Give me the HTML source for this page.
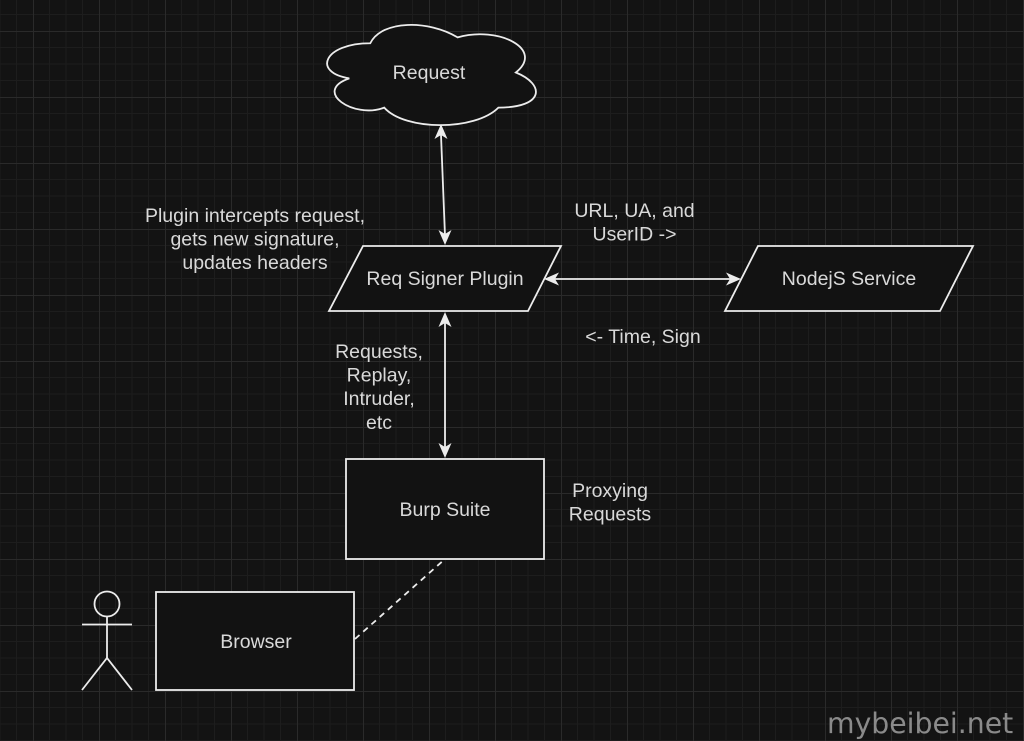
<!DOCTYPE html>
<html><head><meta charset="utf-8">
<style>
html,body{margin:0;padding:0;background:#131313;}
body{width:1024px;height:741px;overflow:hidden;}
svg{display:block;}
text{font-family:"Liberation Sans",Arial,sans-serif;font-size:19.5px;fill:#d9d9d9;}
</style></head>
<body>
<svg width="1024" height="741" viewBox="0 0 1024 741" xmlns="http://www.w3.org/2000/svg">
<defs>
<pattern id="g" patternUnits="userSpaceOnUse" x="33" y="31" width="66" height="66">
<rect width="66" height="66" fill="#131313"/>
<path d="M16.5 0V66M33 0V66M49.5 0V66M0 16.5H66M0 33H66M0 49.5H66" stroke="#1d1d1d" stroke-width="1"/>
<path d="M0.5 0V66M0 0.5H66" stroke="#2a2a2a" stroke-width="1"/>
</pattern>
</defs>
<rect width="1024" height="741" fill="url(#g)"/>

<g stroke="#ececec" stroke-width="1.8" fill="#121212">
<!-- cloud -->
<path d="M370.25 43.25 C323.65 43.25 312 72.5 349.28 78.35 C312 91.22 353.94 119.3 384.23 107.6 C405.2 131 475.1 131 498.4 107.6 C545 107.6 545 84.2 515.88 72.5 C545 49.1 498.4 25.7 457.63 37.4 C428.5 19.85 381.9 19.85 370.25 43.25 Z"/>
<!-- parallelograms -->
<polygon points="363,246 561,246 528,311 329,311"/>
<polygon points="758,246 973,246 940,311 725,311"/>
<!-- rects -->
<rect x="346" y="459" width="198" height="100"/>
<rect x="156" y="592" width="198" height="98"/>
</g>

<!-- connectors -->
<g stroke="#ececec" stroke-width="1.8" fill="none">
<line x1="441" y1="135" x2="445" y2="236"/>
<line x1="445" y1="322" x2="445" y2="449"/>
<line x1="555" y1="279" x2="731" y2="279"/>
<line x1="355" y1="639" x2="445" y2="559" stroke-dasharray="6 5"/>
<!-- person -->
<circle cx="107" cy="604" r="12.5"/>
<line x1="107" y1="616.5" x2="107" y2="658"/>
<line x1="82" y1="624.5" x2="132" y2="624.5"/>
<polyline points="82,690 107,658 132,690"/>
</g>
<g fill="#ececec">
<path d="M0 0 L-15 -6.5 L-11 0 L-15 6.5 Z" transform="translate(441,124) rotate(-90)"/>
<path d="M0 0 L-15 -6.5 L-11 0 L-15 6.5 Z" transform="translate(445,245) rotate(90)"/>
<path d="M0 0 L-15 -6.5 L-11 0 L-15 6.5 Z" transform="translate(445,312) rotate(-90)"/>
<path d="M0 0 L-15 -6.5 L-11 0 L-15 6.5 Z" transform="translate(445,458) rotate(90)"/>
<path d="M0 0 L-15 -6.5 L-11 0 L-15 6.5 Z" transform="translate(544,279) rotate(180)"/>
<path d="M0 0 L-15 -6.5 L-11 0 L-15 6.5 Z" transform="translate(741,279)"/>
</g>

<g text-anchor="middle">
<text x="429" y="79">Request</text>
<text x="445" y="285">Req Signer Plugin</text>
<text x="849" y="285">NodejS Service</text>
<text x="445" y="516">Burp Suite</text>
<text x="256" y="648">Browser</text>
<text x="255" y="222">Plugin intercepts request,</text>
<text x="255" y="245.5">gets new signature,</text>
<text x="255" y="269">updates headers</text>
<text x="634.5" y="217">URL, UA, and</text>
<text x="634.5" y="240.5">UserID -&gt;</text>
<text x="643" y="343">&lt;- Time, Sign</text>
<text x="379" y="358">Requests,</text>
<text x="379" y="381.6">Replay,</text>
<text x="379" y="405.2">Intruder,</text>
<text x="379" y="428.8">etc</text>
<text x="610" y="497">Proxying</text>
<text x="610" y="520.6">Requests</text>
</g>
<text x="827" y="733" style="font-family:'DejaVu Sans','Liberation Sans',sans-serif;font-size:28.3px;fill:#8a8a8a;">mybeibei.net</text>
</svg>
</body></html>
